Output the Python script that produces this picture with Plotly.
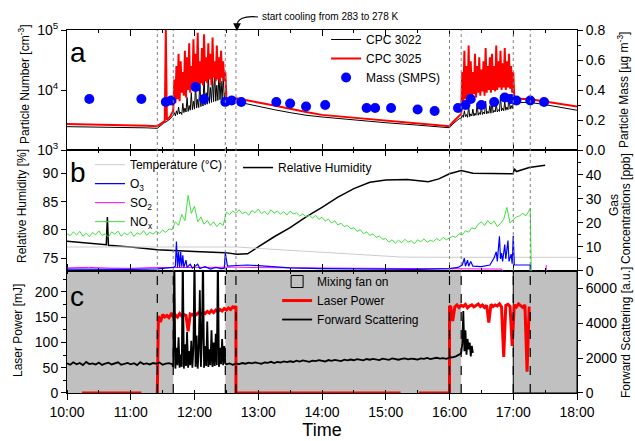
import plotly.graph_objects as go

# ---------------- helpers ----------------
def hm(s):
    h, m = s.split(":")
    return int(h) + float(m) / 60.0


def seg(start, values, step_min=1.0):
    t0 = hm(start)
    return [t0 + i * step_min / 60.0 for i in range(len(values))]


def tl(lst):
    return [None if s is None else hm(s) for s in lst]


# ---------------- shared time info ----------------
tick_labels = ["10:00", "11:00", "12:00", "13:00", "14:00", "15:00", "16:00", "17:00", "18:00"]
event_times = ["11:25", "11:40", "12:29", "12:39", "16:00", "16:11", "17:00", "17:16"]
fan_on_start = ["10:00", "12:29", "17:00"]
fan_on_end = ["11:40", "16:11", "18:00"]
cooling_start = "12:40"

# ---------------- panel a : particle number / mass ----------------
cpc3022_pre_t = ["10:00", "10:15", "10:30", "10:45", "11:00", "11:15", "11:25", "11:28", "11:31", "11:34", "11:37"]
cpc3022_pre = [2450, 2440, 2420, 2400, 2380, 2340, 2300, 2550, 2800, 3000, 3300]
cpc3022_burst1_start = "11:40"
cpc3022_burst1 = [3800, 4200, 3700, 4500, 3900, 5200, 4000, 4300, 3900, 6000,
                  4200, 5000, 4300, 7500, 4400, 5500, 4600, 9000, 4700, 6500,
                  4800, 12000, 5000, 7000, 5100, 15000, 5300, 8000, 5400, 18000,
                  5600, 9000, 5800, 20000, 6000, 11000, 6200, 16000, 6400, 21000,
                  6500, 12000, 6700, 19000, 6900, 14000, 7100, 17000, 7300, 9000]
cpc3022_mid_t = ["12:30", "12:35", "12:39", "12:45", "13:00", "13:15", "13:30", "13:45", "14:00", "14:30",
                 "15:00", "15:30", "15:45", "16:00", "16:03", "16:06", "16:09"]
cpc3022_mid = [6200, 6300, 6300, 6100, 5300, 4700, 4200, 3800, 3550, 3150,
               2850, 2600, 2450, 2350, 2700, 3000, 3300]
cpc3022_burst2_start = "16:11"
cpc3022_burst2 = [3400, 3800, 3500, 4500, 3600, 3900, 3500, 5500, 3600, 4000,
                  3700, 4800, 3700, 4100, 3800, 6000, 3800, 4200, 3900, 5200,
                  3900, 4300, 4000, 6500, 4000, 4400, 4100, 5500, 4100, 7000,
                  4200, 4600, 4300, 6000, 4300, 4700, 4400, 8000, 4500, 5000,
                  4500, 6500, 4600, 5200, 4700, 8500, 4800, 5500, 4900, 6000]
cpc3022_post_t = ["17:01", "17:16", "17:30", "17:45", "18:00"]
cpc3022_post = [6200, 6200, 5700, 5100, 4600]

cpc3025_pre_t = ["10:00", "10:15", "10:30", "10:45", "11:00", "11:15", "11:25", "11:28", "11:31", "11:32",
                 "11:33", "11:34", "11:37"]
cpc3025_pre = [2700, 2680, 2650, 2620, 2580, 2540, 2500, 2750, 3000, 3050,
               100000, 3150, 3600]
cpc3025_burst1_start = "11:40"
cpc3025_burst1 = [4500, 15000, 6000, 25000, 7000, 40000, 6500, 30000, 9000, 20000,
                  8000, 45000, 7500, 35000, 10000, 60000, 9000, 25000, 11000, 70000,
                  10000, 40000, 12000, 90000, 11000, 30000, 13000, 50000, 12000, 85000,
                  14000, 35000, 13000, 60000, 15000, 40000, 12000, 75000, 16000, 30000,
                  14000, 55000, 15000, 35000, 13000, 45000, 16000, 30000, 14000, 20000]
cpc3025_mid_t = ["12:30", "12:39", "12:45", "13:00", "13:15", "13:30", "13:45", "14:00", "14:30", "15:00",
                 "15:30", "16:00", "16:03", "16:06", "16:09"]
cpc3025_mid = [7300, 7300, 7000, 6200, 5500, 4800, 4300, 3850, 3450, 3100,
               2850, 2500, 2900, 3300, 3700]
cpc3025_burst2_start = "16:11"
cpc3025_burst2 = [4000, 20000, 6000, 45000, 7000, 25000, 6500, 55000, 8000, 30000,
                  7000, 20000, 8500, 40000, 7500, 25000, 9000, 35000, 8000, 22000,
                  9500, 30000, 8000, 50000, 9000, 25000, 10000, 35000, 9000, 40000,
                  10000, 25000, 9500, 55000, 10000, 30000, 11000, 45000, 10000, 28000,
                  11000, 50000, 10000, 30000, 11000, 40000, 10500, 25000, 9000, 20000]
cpc3025_post_t = ["17:01", "17:16", "17:30", "17:45", "18:00"]
cpc3025_post = [7200, 7000, 6400, 5800, 5300]

mass_t = ["10:21", "11:10", "11:33", "11:38", "12:01", "12:09", "12:29", "12:35", "12:44", "13:17",
          "13:30", "13:45", "14:03", "14:42", "14:50", "15:05", "15:30", "15:46", "16:08", "16:15",
          "16:20", "16:30", "16:42", "16:52", "16:58", "17:03", "17:16", "17:29"]
mass = [0.34, 0.34, 0.32, 0.33, 0.42, 0.34, 0.32, 0.33, 0.32, 0.32,
        0.31, 0.29, 0.30, 0.28, 0.28, 0.28, 0.27, 0.26, 0.28, 0.30,
        0.34, 0.30, 0.32, 0.35, 0.34, 0.33, 0.33, 0.32]

# ---------------- panel b : RH, temperature, gases ----------------
rh_t = ["10:00", "10:37", "10:38", "10:39", "11:00", "11:25", "12:00", "12:29", "12:40", "12:50",
        "13:00", "13:15", "13:30", "13:45", "14:00", "14:15", "14:30", "14:45", "15:00", "15:20",
        "15:40", "15:50", "16:00", "16:11", "16:22", "16:40", "17:00", "17:01", "17:03", "17:15", "17:30"]
rh = [78.0, 77.4, 82.3, 77.3, 77.0, 76.5, 76.2, 76.0, 75.7, 75.8,
      77.0, 78.8, 80.4, 82.3, 84.0, 85.8, 87.3, 88.4, 88.8, 88.9,
      88.5, 89.0, 89.9, 90.5, 90.0, 89.9, 89.9, 90.8, 90.3, 91.0, 91.4]

temp_t = ["10:00", "12:40", "13:00", "13:38", "14:26", "15:00", "15:15", "16:00", "17:00", "18:00"]
temp_c = [10.0, 10.0, 9.4, 8.3, 7.2, 6.2, 5.8, 5.7, 5.7, 5.7]

nox_start = "10:00"
nox_step_min = 3
nox = [15.5, 14.7, 16.3, 15.0, 16.5, 14.5, 15.7, 14.3, 16.0, 15.1,
       16.7, 14.8, 15.5, 14.1, 16.3, 15.3, 16.6, 14.5, 15.8, 15.0,
       16.4, 14.4, 15.9, 15.2, 16.8, 14.9, 16.1, 15.4, 16.5,
       15.7, 17.0, 16.1, 17.5, 17.3,
       20.5, 19.0, 23.5, 21.0, 31.5, 24.0, 27.0, 20.5, 22.5, 19.5,
       21.0, 19.0, 20.5, 18.5, 20.0, 19.0,
       24.5, 23.5, 25.0, 24.0, 25.5, 23.8, 24.6, 23.2, 25.2, 24.3,
       25.8, 23.9, 24.8, 23.5, 25.5, 24.1, 25.0, 23.6, 24.7, 23.3,
       24.9, 23.8, 24.2, 22.9, 23.8, 22.5, 23.4,
       22.0, 23.2, 21.5, 22.4, 20.8, 21.6, 20.0, 20.9, 19.2, 19.9, 18.5, 19.0, 17.6,
       18.0, 16.5, 17.2, 15.5, 16.3, 14.8, 15.4, 14.0, 14.6, 13.2,
       13.5, 12.0, 13.0, 11.5, 12.8, 11.8, 13.2, 12.0, 12.6, 11.4,
       13.0, 12.2, 13.4, 12.0, 12.8, 12.3, 13.5, 12.6, 14.0, 13.0,
       13.8, 14.5, 14.0, 15.5, 15.0, 16.8, 16.2, 18.0, 17.5, 19.5,
       20.5, 19.0, 21.0, 19.5, 20.8, 18.5, 19.8, 21.5, 26.5, 20.0,
       21.5, 22.5, 23.0, 24.0, 23.0, 25.5]
nox_end_t = ["17:16", "17:17"]
nox_end = [26.0, 0.0]

o3_t = ["10:00", "10:30", "11:00", "11:25", "11:35", "11:40", "11:42", "11:43", "11:44", "11:45",
        "11:46", "11:47", "11:48", "11:49", "11:50", "11:52", "11:53", "11:56", "11:58", "12:03",
        "12:05", "12:10", "12:15", "12:20", "12:25", "12:28", "12:29", "12:31", "12:40", "12:50",
        "13:00", "13:15", "13:30", "14:00", "15:00", "15:30", "16:00", "16:08", "16:12", "16:14",
        "16:15", "16:17", "16:18", "16:20", "16:22", "16:30", "16:38", "16:42", "16:44", "16:45",
        "16:47", "16:48", "16:49", "16:50", "16:52", "16:53", "16:55", "16:56", "16:58", "16:59",
        "17:00", "17:01", "17:16", "17:16"]
o3 = [0.8, 0.6, 0.7, 0.9, 1.4, 1.5, 2.0, 12.3, 1.5, 8.0,
      1.5, 8.0, 1.8, 6.5, 1.5, 4.5, 1.5, 2.8, 1.2, 2.8,
      1.0, 1.8, 0.8, 1.5, 1.0, 1.2, 7.5, 2.0, 2.3, 2.5,
      2.2, 1.8, 1.3, 1.0, 0.8, 0.7, 1.0, 1.5, 2.5, 5.3,
      2.0, 4.5, 2.0, 4.0, 2.0, 1.8, 2.5, 5.5, 8.0, 4.0,
      14.5, 5.0, 7.5, 4.0, 11.0, 5.0, 12.7, 4.0, 7.0, 3.0,
      14.7, 2.5, 2.5, 0.0]

so2_t = ["10:00", "10:20", "10:40", "11:00", "11:20", "11:40", "12:00", "12:20", "12:40", "13:00",
         "13:30", "14:00", "14:30", "15:00", "15:30", "16:00", "16:30", "16:49", "16:50", None, "17:31", "17:31"]
so2 = [1.3, 1.5, 1.2, 1.1, 1.4, 1.5, 1.7, 1.5, 1.6, 1.4,
       1.3, 1.2, 1.4, 1.3, 1.2, 1.1, 0.9, 0.8, 0.0, None, 0.0, 2.5]

# ---------------- panel c : laser power, forward scattering ----------------
laser_off1_t = ["10:14", "11:10"]
laser_off1 = [0, 0]
laser_on1_start = "11:26"
laser_on1 = [152, 140, 155, 150, 153, 149, 156, 151, 154, 150, 157, 152, 155, 153, 122, 156, 154, 158, 155,
             159, 156, 160, 157, 161, 158, 163, 159, 164, 161, 165, 162, 167, 164, 168, 165, 170, 168]
laser_mid_t = ["12:39", "12:39", "15:14", None, "15:31", "16:00", "16:00"]
laser_mid = [172, 0, 0, None, 0, 0, 170]
laser_on2_start = "16:01"
laser_on2 = [172, 142, 170, 174, 169, 173, 171, 175, 168, 172, 174, 170, 173, 176, 171, 174, 169, 173, 139,
             175, 171, 174, 172, 176, 170, 71, 173, 175, 171, 93, 174, 170, 176, 172, 169, 174, 42, 171]

fs_pre_start = "10:00"
fs_pre = [1700, 1620, 1760, 1650, 1720, 1600, 1780, 1660, 1700, 1630, 1750, 1610, 1690, 1740, 1640, 1700, 1760,
          1620, 1680, 1730, 1650, 1710, 1600, 1770, 1660, 1700, 1640, 1720, 1680, 1750, 1620, 1690, 1710, 1650]
fs_burst1_start = "11:40"
fs_burst1 = [1500, 8000, 1400, 2600, 1600, 3200, 1450, 2200, 1500, 8000,
             1400, 2800, 1550, 3500, 1450, 2400, 1600, 3000, 1450, 2600,
             8000, 1500, 3300, 1400, 2500, 5900, 1500, 3100, 8000, 1450,
             2700, 1550, 4100, 1500, 2500, 1600, 3600, 1500, 2900, 1550,
             3400, 1600, 8000, 1500, 2600, 1650, 3100, 1600, 2700, 1700]
fs_mid_start = "12:30"
fs_mid = [1650, 1700, 1620, 1690, 1660, 1720, 1680, 1740, 1700, 1760, 1710, 1680, 1750, 1730, 1790, 1720, 1780,
          1750, 1810, 1770,
          1820, 1780, 1850, 1800, 1870, 1820, 1790, 1860, 1830, 1880, 1840, 1810, 1890, 1850, 1900, 1860, 1830,
          1910, 1870, 1920,
          1880, 1940, 1900, 1870, 1950, 1910, 1960, 1920, 1890, 1970, 1930, 1900, 1980, 1940, 1910, 1960, 1990,
          1930, 1970, 1950,
          1920, 1990, 1960, 2010, 1940, 1980, 2020, 1970, 2000, 1960, 2030, 2050, 2100, 2200]
fs_burst2_start = "16:11"
fs_burst2 = [2300, 2800, 4700, 2400, 3600, 2200, 3100, 2500, 2900, 2100, 2700, 2300]

# ---------------- assemble series ----------------
cpc3022_x = tl(cpc3022_pre_t) + seg(cpc3022_burst1_start, cpc3022_burst1) + tl(cpc3022_mid_t) + \
    seg(cpc3022_burst2_start, cpc3022_burst2) + tl(cpc3022_post_t)
cpc3022_y = cpc3022_pre + cpc3022_burst1 + cpc3022_mid + cpc3022_burst2 + cpc3022_post
cpc3025_x = tl(cpc3025_pre_t) + seg(cpc3025_burst1_start, cpc3025_burst1) + tl(cpc3025_mid_t) + \
    seg(cpc3025_burst2_start, cpc3025_burst2) + tl(cpc3025_post_t)
cpc3025_y = cpc3025_pre + cpc3025_burst1 + cpc3025_mid + cpc3025_burst2 + cpc3025_post

nox_x = seg(nox_start, nox, nox_step_min) + tl(nox_end_t)
nox_y = nox + nox_end

laser_x = tl(laser_off1_t) + [None, hm("11:25")] + seg(laser_on1_start, laser_on1, 2) + tl(laser_mid_t) + \
    seg(laser_on2_start, laser_on2, 2)
laser_y = laser_off1 + [None, 0] + laser_on1 + laser_mid + laser_on2

fs_x = seg(fs_pre_start, fs_pre, 3) + seg(fs_burst1_start, fs_burst1) + seg(fs_mid_start, fs_mid, 3) + \
    seg(fs_burst2_start, fs_burst2)
fs_y = fs_pre + fs_burst1 + fs_mid + fs_burst2

FONT = "Liberation Sans, Arial, sans-serif"
LASER_MAX = 241
fig = go.Figure()

# panel a
fig.add_trace(go.Scatter(x=cpc3022_x, y=cpc3022_y, xaxis="x3", yaxis="y", mode="lines",
                         line=dict(color="black", width=1), name="CPC 3022", legend="legend"))
fig.add_trace(go.Scatter(x=cpc3025_x, y=cpc3025_y, xaxis="x3", yaxis="y", mode="lines",
                         line=dict(color="#ff0000", width=2), name="CPC 3025", legend="legend"))
fig.add_trace(go.Scatter(x=tl(mass_t), y=mass, xaxis="x3", yaxis="y2", mode="markers",
                         marker=dict(color="#0000ff", size=10), name="Mass (SMPS)", legend="legend"))

# panel b
fig.add_trace(go.Scatter(x=tl(rh_t), y=rh, xaxis="x2", yaxis="y3", mode="lines",
                         line=dict(color="black", width=1.5), name="Relative Humidity", legend="legend3"))
fig.add_trace(go.Scatter(x=tl(temp_t), y=temp_c, xaxis="x2", yaxis="y4", mode="lines",
                         line=dict(color="#cccccc", width=1), name="Temperature (°C)", legend="legend2",
                         legendrank=1))
fig.add_trace(go.Scatter(x=nox_x, y=nox_y, xaxis="x2", yaxis="y4", mode="lines",
                         line=dict(color="#3ee03e", width=1), name="NO<sub>x</sub>", legend="legend2",
                         legendrank=4))
fig.add_trace(go.Scatter(x=tl(so2_t), y=so2, xaxis="x2", yaxis="y4", mode="lines",
                         line=dict(color="#ff00ff", width=1), name="SO<sub>2</sub>", legend="legend2",
                         legendrank=3))
fig.add_trace(go.Scatter(x=tl(o3_t), y=o3, xaxis="x2", yaxis="y4", mode="lines",
                         line=dict(color="#0000ff", width=1.2), name="O<sub>3</sub>", legend="legend2",
                         legendrank=2))

# panel c
fig.add_trace(go.Scatter(x=laser_x, y=laser_y, xaxis="x", yaxis="y5", mode="lines",
                         line=dict(color="#ff0000", width=3), name="Laser Power", legend="legend4",
                         legendrank=2))
fig.add_trace(go.Scatter(x=fs_x, y=fs_y, xaxis="x", yaxis="y6", mode="lines",
                         line=dict(color="black", width=1.8), name="Forward Scattering", legend="legend4",
                         legendrank=3))

# mixing-fan rectangles (shapes; the last one carries the legend entry and its outline)
shapes = []
n_fan = len(fan_on_start)
for i, (a, b) in enumerate(zip(fan_on_start, fan_on_end)):
    is_leg = (i == n_fan - 1)
    shapes.append(dict(type="rect", xref="x", yref="y5 domain", x0=hm(a), x1=hm(b), y0=0, y1=1,
                       fillcolor="#c0c0c0", line=dict(color="black", width=1 if is_leg else 0),
                       layer="below", showlegend=is_leg, legend="legend4", name="Mixing fan on",
                       legendgroup="fan", legendrank=1))

# event lines
for t in event_times:
    shapes.append(dict(type="line", xref="x", yref="paper", x0=hm(t), x1=hm(t), y0=0.3361, y1=1,
                       line=dict(color="#808080", width=1, dash="dot")))
    shapes.append(dict(type="line", xref="x", yref="paper", x0=hm(t), x1=hm(t), y0=0, y1=0.3361,
                       line=dict(color="black", width=1.2, dash="dash")))

# curved cooling arrow (offsets in pixels converted to hours / paper)
tc = hm(cooling_start)
px_h = 8.0 / 510.0
py_p = 1.0 / 363.0
shapes.append(dict(type="path", xref="x", yref="paper",
                   path=f"M {tc + 21 * px_h},{1 + 13 * py_p} Q {tc},{1 + 15 * py_p} {tc},{1 + 4 * py_p}",
                   line=dict(color="black", width=1.2)))
fig.update_layout(shapes=shapes)

tickfont = dict(family=FONT, size=14, color="black")
titlefont = dict(family=FONT, size=12, color="black")
hours = [hm(s) for s in tick_labels]

xcommon = dict(range=[10, 18], tickvals=hours, ticktext=tick_labels, showline=True, linecolor="black",
               linewidth=1, mirror="ticks", showgrid=False, zeroline=False, tickfont=tickfont,
               ticklen=6, tickcolor="black", automargin=False,
               minor=dict(tickmode="linear", tick0=10, dtick=0.5, ticklen=3, tickcolor="black", ticks="inside"))
ycommon = dict(showline=True, linecolor="black", ticks="outside", ticklen=5, tickcolor="black",
               showgrid=False, zeroline=False, tickfont=tickfont, automargin=False)

fig.update_layout(
    template="none",
    width=635, height=441,
    margin=dict(l=67, r=58, t=30, b=48, autoexpand=False),
    paper_bgcolor="white", plot_bgcolor="white",
    font=dict(family=FONT, color="black"),
    xaxis=dict(xcommon, anchor="y5", ticks="outside", showticklabels=True,
               title=dict(text="Time", font=dict(family=FONT, size=18), standoff=4)),
    xaxis2=dict(xcommon, anchor="y3", matches="x", ticks="inside", showticklabels=False),
    xaxis3=dict(xcommon, anchor="y", matches="x", ticks="inside", showticklabels=False),
    yaxis=dict(ycommon, domain=[0.6694, 1], type="log", range=[3, 5], tickvals=[1e3, 1e4, 1e5],
               ticktext=["10<sup>3</sup>", "10<sup>4</sup>", "10<sup>5</sup>"], anchor="x3"),
    yaxis2=dict(ycommon, overlaying="y", side="right", anchor="x3", range=[0, 0.8],
                tickvals=[0, 0.2, 0.4, 0.6, 0.8], tickformat=".1f",
                minor=dict(tickmode="linear", tick0=0, dtick=0.1, ticklen=3, tickcolor="black", ticks="outside")),
    yaxis3=dict(ycommon, domain=[0.3361, 0.6694], range=[72.76, 94.1], tickvals=[75, 80, 85, 90], anchor="x2"),
    yaxis4=dict(ycommon, overlaying="y3", side="right", anchor="x2", range=[0, 50.4],
                tickvals=[0, 10, 20, 30, 40],
                minor=dict(tickmode="linear", tick0=0, dtick=5, ticklen=3, tickcolor="black", ticks="outside")),
    yaxis5=dict(ycommon, domain=[0, 0.3361], range=[0, LASER_MAX], tickvals=[0, 50, 100, 150, 200], anchor="x",
                minor=dict(tickmode="linear", tick0=0, dtick=25, ticklen=3, tickcolor="black", ticks="outside")),
    yaxis6=dict(ycommon, overlaying="y5", side="right", anchor="x", range=[0, 7000],
                tickvals=[0, 2000, 4000, 6000],
                minor=dict(tickmode="linear", tick0=0, dtick=1000, ticklen=3, tickcolor="black", ticks="outside")),
    legend=dict(x=0.508, y=1.0138, xanchor="left", yanchor="top", bgcolor="rgba(0,0,0,0)",
                font=dict(family=FONT, size=12), itemwidth=30, tracegroupgap=0),
    legend2=dict(x=0.045, y=0.669, xanchor="left", yanchor="top", bgcolor="rgba(0,0,0,0)",
                 font=dict(family=FONT, size=12), itemwidth=30, traceorder="normal"),
    legend3=dict(x=0.3354, y=0.661, xanchor="left", yanchor="top", bgcolor="rgba(0,0,0,0)",
                 font=dict(family=FONT, size=12), itemwidth=30),
    legend4=dict(x=0.412, y=0.347, xanchor="left", yanchor="top", bgcolor="rgba(0,0,0,0)",
                 font=dict(family=FONT, size=12), itemwidth=30, traceorder="normal"),
    showlegend=True,
)

def vtitle(text, px, py):
    return dict(text=text, xref="paper", yref="paper", x=(px - 67) / 510.0, y=(393 - py) / 363.0,
                xanchor="center", yanchor="middle", textangle=-90, showarrow=False, font=titlefont)

annotations = [
    dict(text="a", xref="paper", yref="paper", x=0.002, y=0.985, xanchor="left", yanchor="top",
         showarrow=False, font=dict(family=FONT, size=28)),
    dict(text="b", xref="paper", yref="paper", x=0.002, y=0.657, xanchor="left", yanchor="top",
         showarrow=False, font=dict(family=FONT, size=28)),
    dict(text="c", xref="paper", yref="paper", x=0.002, y=0.313, xanchor="left", yanchor="top",
         showarrow=False, font=dict(family=FONT, size=28)),
    vtitle("Particle Number [cm<sup>-3</sup>]", 24, 84),
    vtitle("Relative Humidity [%]", 22, 206),
    vtitle("Laser Power [mJ]", 18, 331),
    vtitle("Particle Mass [µg m<sup>-3</sup>]", 623, 90),
    vtitle("Gas", 614, 205),
    vtitle("Concentrations [ppb]", 626, 209),
    vtitle("Forward Scattering [a.u.]", 626, 333),
    dict(text="start cooling from 283 to 278 K", xref="x", yref="paper", x=tc + 23 * px_h,
         y=1 + 13 * py_p, xanchor="left", yanchor="middle", showarrow=False,
         font=dict(family=FONT, size=10)),
    dict(text="", xref="x", yref="paper", x=tc, y=1 - 1 * py_p, ax=0, ay=-6, showarrow=True,
         arrowhead=2, arrowsize=1.3, arrowwidth=1.2, arrowcolor="black"),
]
fig.update_layout(annotations=annotations)

fig.write_html("out.html", config={"displayModeBar": False},
               post_script="document.body.style.margin='0px';document.body.style.overflow='hidden';")
